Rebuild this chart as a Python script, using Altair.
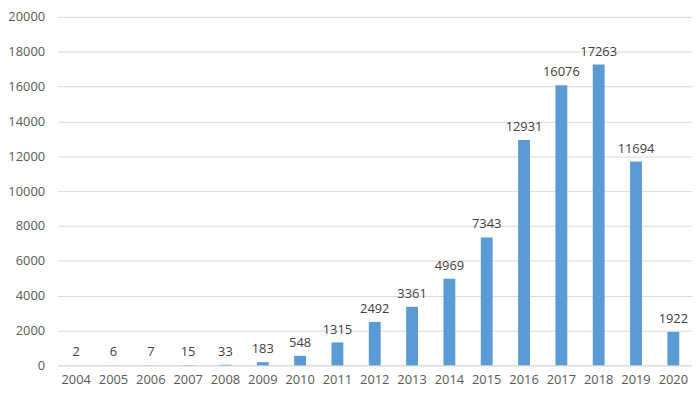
import altair as alt
import pandas as pd

years = [str(y) for y in range(2004, 2021)]
counts = [2, 6, 7, 15, 33, 183, 548, 1315, 2492, 3361, 4969, 7343, 12931, 16076, 17263, 11694, 1922]
y_ticks = list(range(0, 20001, 2000))

df = pd.DataFrame({"year": years, "count": counts})

font = "Open Sans"
fs = 13

base = alt.Chart(df).encode(
    x=alt.X("year:N", sort=years, title=None,
            scale=alt.Scale(paddingInner=0.68, paddingOuter=0.34),
            axis=alt.Axis(labelAngle=0, ticks=False, domain=True, domainColor="#d9d9d9",
                          labelColor="#595959", labelFont=font, labelFontSize=fs,
                          labelPadding=8, grid=False)),
    y=alt.Y("count:Q", title=None,
            scale=alt.Scale(domain=[0, 20000], nice=False),
            axis=alt.Axis(values=y_ticks, format="d", ticks=False, domain=False, grid=True,
                          gridColor="#d9d9d9", gridWidth=1, labelColor="#595959",
                          labelFont=font, labelFontSize=fs, labelPadding=13)),
)

bars = base.mark_bar(color="#5B9BD5", size=12)
labels = base.mark_text(dy=-13, font=font, fontSize=fs, color="#404040").encode(
    text=alt.Text("count:Q", format="d"))

chart = (bars + labels).properties(
    width=641, height=352,
    autosize=alt.AutoSizeParams(type="none"),
    padding={"left": 50, "top": 7, "right": 0, "bottom": 30},
).configure(background="white").configure_view(stroke="transparent", strokeWidth=0)

chart.save("out.html", embed_options={"renderer": "svg", "actions": False})
